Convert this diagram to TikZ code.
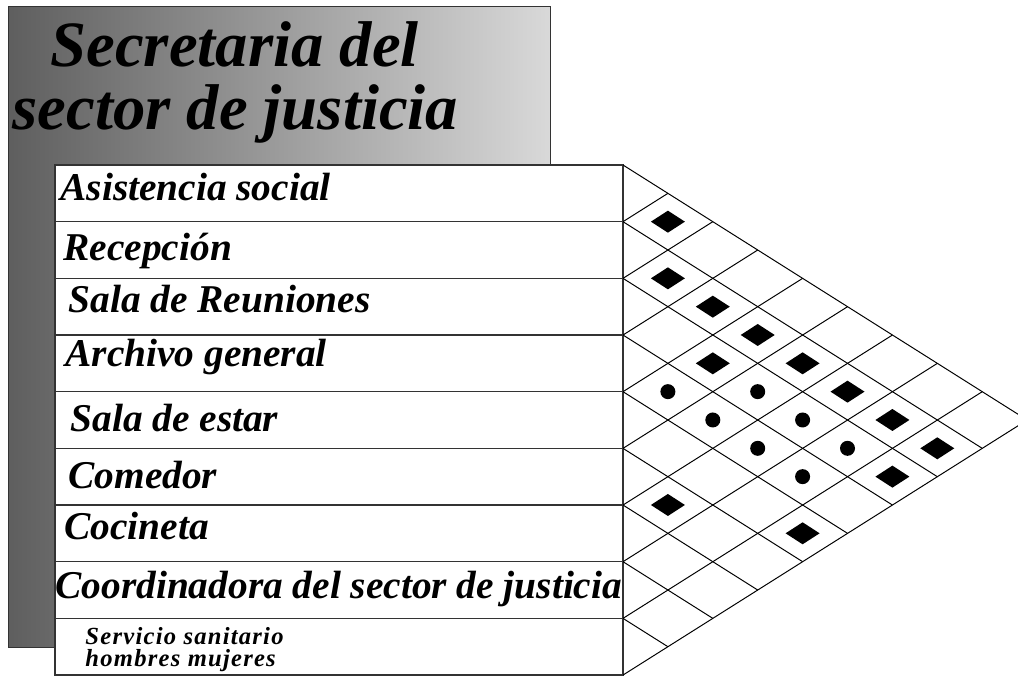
\documentclass[tikz,border=0pt]{standalone}
\usepackage{fontspec}
\setmainfont{Liberation Serif}
\begin{document}
\begin{tikzpicture}[x=0.025cm,y=-0.025cm,line width=0.7pt,
  titulo/.style={anchor=base west,inner sep=0pt,font=\fontsize{46}{46}\selectfont\bfseries\itshape},
  etiq/.style={anchor=base west,inner sep=0pt,font=\fontsize{28}{28}\selectfont\bfseries\itshape},
  etiqchica/.style={anchor=north west,inner sep=0pt,align=left,font=\fontsize{17.5}{15.5}\selectfont\bfseries\itshape\addfontfeature{LetterSpace=5}},
  rombo/.style={fill=black},
  punto/.style={fill=black}]
  \useasboundingbox (0,0) rectangle (1018,679);
  % recuadro del titulo
  \draw[draw=black!80,left color=black!63,right color=black!15] (8,6) rectangle (550,647);
  \node[titulo] (tit1) at (50,66) {Secretaria del};
  \node[titulo] (tit2) at (12,129) {sector de justicia};
  % tabla de locales
  \draw[fill=white,draw=black!80,line width=1pt] (55,165) rectangle (623,675);
  \foreach \k in {1,...,8} {\draw[black!80,line width=1pt] (55,{165+\k*56.67}) -- (623,{165+\k*56.67});}
  \node[etiq] (asis) at (60,200) {Asistencia social};
  \node[etiq] (recep) at (63,260) {Recepción};
  \node[etiq] (reun) at (68,312) {Sala de Reuniones};
  \node[etiq] (arch) at (65,366) {Archivo general};
  \node[etiq] (estar) at (70,431) {Sala de estar};
  \node[etiq] (come) at (68,488) {Comedor};
  \node[etiq] (coci) at (64,539) {Cocineta};
  \node[etiq] (coord) at (55,598) {Coordinadora del sector de justicia};
  \node[etiqchica] (sani) at (85,627) {Servicio sanitario\\hombres mujeres};
  % matriz de relaciones
  \begin{scope}
    \clip (623,150) rectangle (1018,679);
    \foreach \k in {0,...,9} {
      \draw (623,{165+\k*56.67}) -- ++({(9-\k)*44.9},{(9-\k)*28.33});
      \draw (623,{165+\k*56.67}) -- ++({\k*44.9},{-\k*28.33});
    }
    \foreach \i/\j in {1/2,2/3,2/4,2/5,3/5,2/6,2/7,2/8,2/9,3/9,6/7,5/9}
      {\fill[rombo] ({623+(\j-\i)*44.9},{165+(\i+\j-1)*28.33}) +(-17,0) -- +(0,-11) -- +(17,0) -- +(0,11) -- cycle;}
    \foreach \i/\j in {4/5,3/6,4/6,3/7,4/7,3/8,4/8}
      {\fill[punto] ({623+(\j-\i)*44.9},{165+(\i+\j-1)*28.33}) circle (7.5);}
  \end{scope}
\end{tikzpicture}
\end{document}
